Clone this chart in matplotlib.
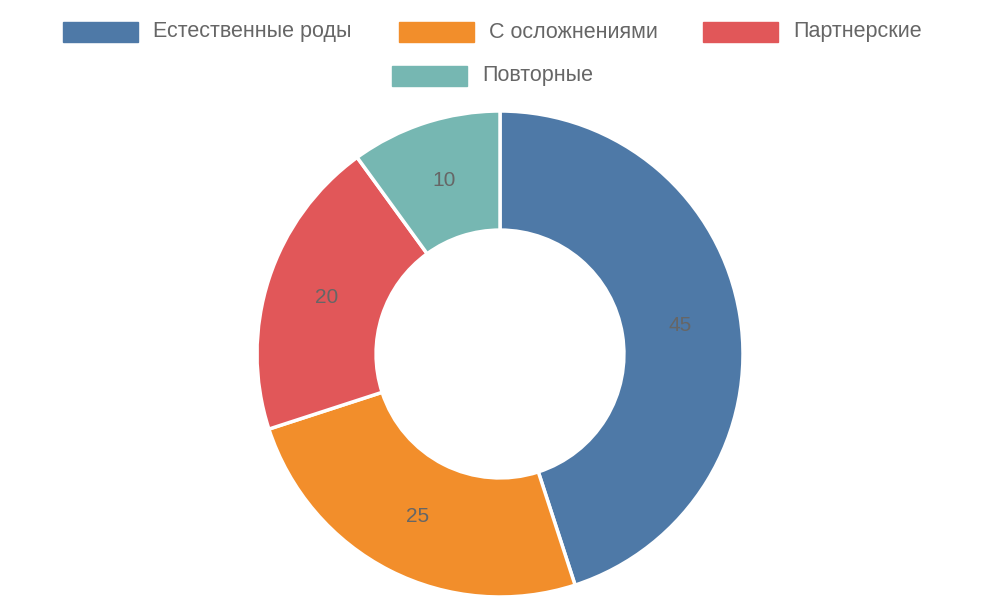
import matplotlib
matplotlib.use("Agg")
import matplotlib.pyplot as plt
from matplotlib.patches import Rectangle

categories = ["Естественные роды", "С осложнениями", "Партнерские", "Повторные"]
values = [45, 25, 20, 10]
colors = ["#4e79a7", "#f28e2b", "#e15759", "#76b7b2"]

plt.rcParams['font.family'] = ['Liberation Sans', 'DejaVu Sans']
fig = plt.figure(figsize=(10, 6), dpi=100)
ax = fig.add_axes([0.257, 0.005, 0.486, 0.81])
wedges, _ = ax.pie(values, colors=colors, startangle=90, counterclock=False, radius=1,
                   wedgeprops=dict(width=0.49, edgecolor='white', linewidth=2.5))
import numpy as np
total = sum(values)
cum = 0
for v in values:
    mid = 90 - (cum + v / 2) / total * 360
    cum += v
    r = 0.75
    ax.text(r * np.cos(np.radians(mid)), r * np.sin(np.radians(mid)), str(v),
            ha='center', va='center', fontsize=15, color='#666666')
ax.set_xlim(-1, 1); ax.set_ylim(-1, 1); ax.set_aspect('equal'); ax.axis('off')

# legend (layout positions in pixels)
legend_pos = [(63, 22), (399, 22), (703, 22), (392, 66)]
for (x, y), lab, c in zip(legend_pos, categories, colors):
    fig.add_artist(Rectangle((x / 1000, 1 - (y + 20) / 600), 75 / 1000, 20 / 600,
                             transform=fig.transFigure, color=c))
    fig.text((x + 90) / 1000, 1 - (y + 10) / 600, lab, ha='left', va='center',
             fontsize=15.5, color='#666666')

fig.savefig("out.png", dpi=100)
